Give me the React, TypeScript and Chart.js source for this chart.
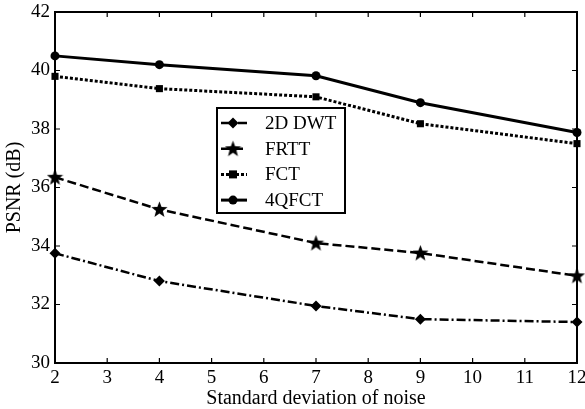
import React, { useEffect, useRef } from "react";
import { Chart, registerables } from "chart.js";

Chart.register(...registerables);

const noiseLevels = [2, 4, 7, 9, 12];
const dwt2d = [33.75, 32.8, 31.95, 31.5, 31.4];
const frtt = [36.35, 35.25, 34.1, 33.76, 32.98];
const fct = [39.8, 39.38, 39.1, 38.18, 37.5];
const qfct4 = [40.5, 40.2, 39.82, 38.9, 37.88];
const seriesNames = ["2D DWT", "FRTT", "FCT", "4QFCT"];
const xTicks = [2, 3, 4, 5, 6, 7, 8, 9, 10, 11, 12];
const yTicks = [30, 32, 34, 36, 38, 40, 42];

const FONT = "'Liberation Serif', 'DejaVu Serif', serif";

function makeStar(size: number): HTMLCanvasElement {
  const c = document.createElement("canvas");
  c.width = size;
  c.height = size;
  const g = c.getContext("2d")!;
  const cx = size / 2, cy = size / 2 + 0.5, R = size / 2, r = R * 0.42;
  g.beginPath();
  for (let i = 0; i < 10; i++) {
    const rad = i % 2 === 0 ? R : r;
    const a = -Math.PI / 2 + (i * Math.PI) / 5;
    const x = cx + rad * Math.cos(a), y = cy + rad * Math.sin(a);
    if (i === 0) g.moveTo(x, y); else g.lineTo(x, y);
  }
  g.closePath();
  g.fillStyle = "#000";
  g.fill();
  return c;
}

export default function App() {
  const ref = useRef<HTMLCanvasElement>(null);
  useEffect(() => {
    document.body.style.margin = "0";
    const star = makeStar(17);
    const styles = [
      { data: dwt2d, dash: [9, 3, 2, 3], point: "rectRot" as any, radius: 5.5, width: 2.5 },
      { data: frtt, dash: [9, 4], point: star as any, radius: 8, width: 2.5 },
      { data: fct, dash: [3, 2], point: "rect" as any, radius: 5, width: 3 },
      { data: qfct4, dash: [], point: "circle" as any, radius: 4.5, width: 3 },
    ];
    const frame = {
      id: "frame",
      afterDraw(chart: any) {
        const { ctx, chartArea: a, scales } = chart;
        ctx.save();
        ctx.strokeStyle = "#000";
        ctx.lineWidth = 2;
        ctx.setLineDash([]);
        ctx.strokeRect(a.left, a.top, a.right - a.left, a.bottom - a.top);
        ctx.lineWidth = 1.2;
        const tl = 5;
        ctx.beginPath();
        for (const v of xTicks) {
          const x = scales.x.getPixelForValue(v);
          ctx.moveTo(x, a.bottom);
          ctx.lineTo(x, a.bottom - tl);
          ctx.moveTo(x, a.top);
          ctx.lineTo(x, a.top + tl);
        }
        for (const v of yTicks) {
          const y = scales.y.getPixelForValue(v);
          ctx.moveTo(a.left, y);
          ctx.lineTo(a.left + tl, y);
          ctx.moveTo(a.right, y);
          ctx.lineTo(a.right - tl, y);
        }
        ctx.stroke();

        // legend box
        const lx = 217, ly = 108, lw = 128, lh = 105;
        ctx.fillStyle = "#fff";
        ctx.fillRect(lx, ly, lw, lh);
        ctx.lineWidth = 2;
        ctx.strokeStyle = "#000";
        ctx.strokeRect(lx, ly, lw, lh);
        ctx.font = `19px ${FONT}`;
        ctx.textBaseline = "middle";
        ctx.textAlign = "left";
        styles.forEach((s, i) => {
          const y = ly + 15 + i * 25.7;
          ctx.strokeStyle = "#000";
          ctx.lineWidth = s.width;
          ctx.setLineDash(s.dash);
          ctx.beginPath();
          ctx.moveTo(lx + 4, y);
          ctx.lineTo(lx + 30, y);
          ctx.stroke();
          ctx.setLineDash([]);
          const mx = lx + 16;
          ctx.fillStyle = "#000";
          ctx.beginPath();
          if (s.point === "rectRot") {
            ctx.moveTo(mx, y - 5.5); ctx.lineTo(mx + 5.5, y); ctx.lineTo(mx, y + 5.5); ctx.lineTo(mx - 5.5, y); ctx.closePath(); ctx.fill();
          } else if (s.point === "rect") {
            ctx.fillRect(mx - 4, y - 4, 8, 8);
          } else if (s.point === "circle") {
            ctx.arc(mx, y, 4.5, 0, Math.PI * 2); ctx.fill();
          } else {
            ctx.drawImage(star, mx - 8.5, y - 8.5);
          }
          ctx.fillText(seriesNames[i], lx + 48, y + 1);
        });
        ctx.restore();
      },
    };
    const chart = new Chart(ref.current!, {
      type: "line",
      data: {
        datasets: styles.map((s, i) => ({
          label: seriesNames[i],
          data: s.data.map((v, j) => ({ x: noiseLevels[j], y: v })),
          borderColor: "#000",
          backgroundColor: "#000",
          borderWidth: s.width,
          borderDash: s.dash,
          pointStyle: s.point,
          pointRadius: s.radius,
          pointBackgroundColor: "#000",
          pointBorderColor: "#000",
          pointBorderWidth: 0,
          tension: 0,
          fill: false,
          clip: false as any,
        })),
      },
      options: {
        responsive: false,
        animation: false,
        layout: { padding: { left: 0, right: 6, top: 12, bottom: 0 } },
        plugins: { legend: { display: false }, tooltip: { enabled: false } },
        scales: {
          x: {
            type: "linear",
            min: 2,
            max: 12,
            afterFit(scale: any) { scale.height = 46; scale.paddingLeft = 0; scale.paddingRight = 0; },
            afterBuildTicks(scale: any) { scale.ticks = xTicks.map((v) => ({ value: v })); },
            grid: { display: false, drawTicks: false },
            border: { display: false },
            ticks: { color: "#000", font: { family: FONT, size: 19 }, padding: 4, maxRotation: 0, autoSkip: false },
            title: { display: true, text: "Standard deviation of noise", color: "#000", font: { family: FONT, size: 20 }, padding: { top: 0, bottom: -2 } },
          },
          y: {
            min: 30,
            max: 42,
            afterFit(scale: any) { scale.width = 55; scale.paddingTop = 0; scale.paddingBottom = 0; },
            afterBuildTicks(scale: any) { scale.ticks = yTicks.map((v) => ({ value: v })); },
            grid: { display: false, drawTicks: false },
            border: { display: false },
            ticks: { color: "#000", font: { family: FONT, size: 19 }, padding: 5 },
            title: { display: true, text: "PSNR (dB)", color: "#000", font: { family: FONT, size: 20 }, padding: { top: 3, bottom: 0 } },
          },
        },
      },
      plugins: [frame],
    });
    return () => chart.destroy();
  }, []);
  return (
    <div style={{ width: 585, height: 409, background: "#fff" }}>
      <canvas ref={ref} width={585} height={409} style={{ display: "block" }} />
    </div>
  );
}
